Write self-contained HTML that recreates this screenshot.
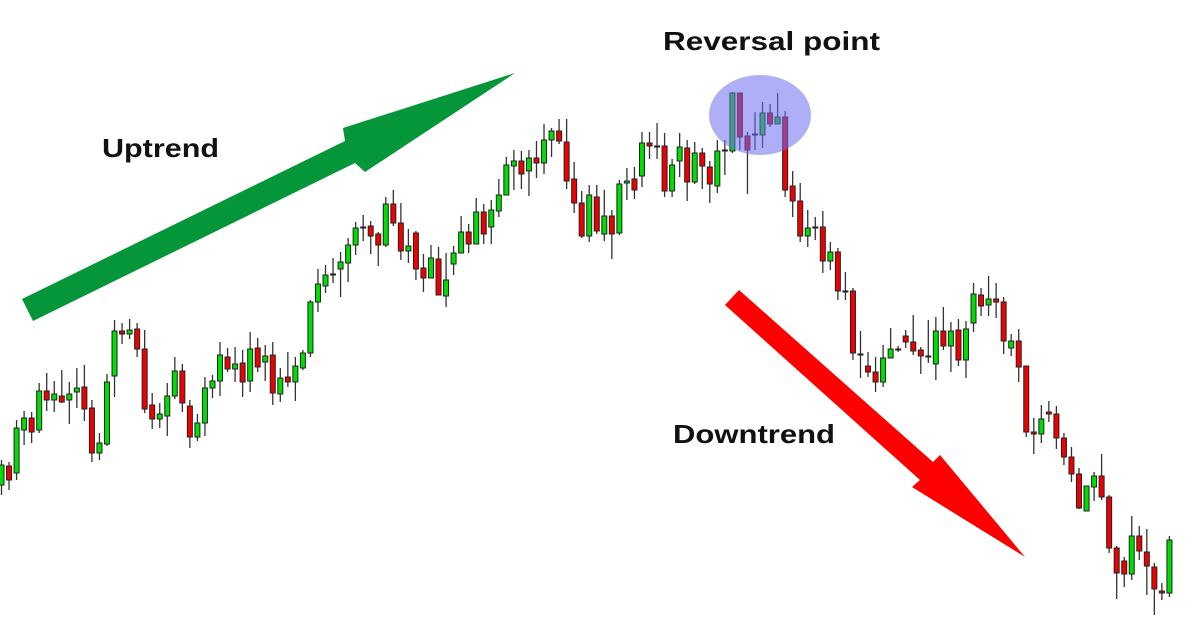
<!DOCTYPE html>
<html><head><meta charset="utf-8"><style>
html,body{margin:0;padding:0;background:#fff;}
svg{display:block;}
text{font-family:"Liberation Sans",Arial,sans-serif;font-weight:bold;fill:#111;}
</style></head><body>
<svg id="chart" width="1200" height="628" viewBox="0 0 1200 628" xmlns="http://www.w3.org/2000/svg">
<g id="candles"></g>
<polygon fill="#06963a" points="22,299 345,141 343,128 515,73 365,172 355,163 33,321"/>
<polygon fill="#ff0000" points="739,290 933,462 940,455 1025,557 912,487 920,480 725,305"/>
<ellipse cx="760" cy="115" rx="51" ry="40" fill="rgba(110,110,240,0.55)"/>
<text x="102" y="157" font-size="26" textLength="117" lengthAdjust="spacingAndGlyphs">Uptrend</text>
<text x="663" y="50" font-size="26" textLength="217" lengthAdjust="spacingAndGlyphs">Reversal point</text>
<text x="673" y="443" font-size="26" textLength="162" lengthAdjust="spacingAndGlyphs">Downtrend</text>
</svg>
<script>
const opens=[155,174,167,210,222,210,249,240,244,240,248,253,232,187,196,264,309,306,311,291,235,221,224,244,269,234,203,217,252,259,283,271,277,259,292,278,285,246,263,258,272,287,338,354,366,371,377,395,413,414,406,395,436,417,389,407,372,362,381,344,376,387,408,396,428,413,429,445,474,479,469,482,477,500,509,498,461,437,404,443,406,424,407,457,461,464,497,494,494,449,479,492,458,487,473,454,490,489,547,504,506,505,527,516,523,454,439,404,413,413,379,388,349,349,286,274,268,258,282,291,304,298,290,284,276,309,294,310,280,317,345,335,341,338,292,299,274,208,206,228,226,202,183,166,129,153,164,143,92,79,66,104,88,73,49,47];
const closes=[175,160,212,222,208,249,240,246,238,246,252,231,187,197,258,309,306,310,291,231,221,226,244,269,237,203,217,252,259,285,271,276,258,291,273,284,247,262,258,274,287,338,356,365,366,378,395,412,413,404,395,436,417,389,394,371,362,382,345,360,387,408,396,428,406,430,445,475,479,466,482,477,500,509,499,459,437,404,445,409,424,406,456,459,450,497,494,494,449,475,493,458,487,474,456,489,490,547,503,490,506,527,516,523,450,439,404,412,413,379,388,349,349,287,286,268,258,282,291,291,298,289,284,284,309,294,309,280,311,346,334,341,338,299,299,273,208,206,221,226,202,183,166,132,154,164,143,92,67,66,104,89,74,51,47,100];
const highs=[180,178,220,229,228,257,267,259,270,258,272,275,240,207,266,320,317,321,317,310,247,237,257,283,276,240,226,263,265,298,292,293,290,308,302,295,298,272,288,283,290,340,371,375,382,388,402,418,425,419,408,443,450,437,411,409,386,395,393,387,394,424,416,442,436,440,461,483,490,489,490,499,516,512,521,521,478,449,455,455,450,430,460,472,473,508,508,517,507,481,507,500,498,492,479,500,500,548,547,508,528,538,536,547,529,469,457,430,423,429,398,392,368,352,309,288,283,295,312,294,310,325,293,320,323,333,318,321,319,357,352,364,357,343,306,311,274,222,235,239,234,207,193,172,154,168,186,145,94,83,124,114,111,77,57,104];
const lows=[145,150,160,195,197,207,229,228,237,216,232,219,178,180,194,243,296,301,283,227,211,212,204,241,228,192,199,204,242,244,268,258,243,248,268,259,235,238,253,239,270,283,328,347,357,343,358,385,399,386,374,393,414,380,377,360,348,362,345,333,365,387,387,396,396,396,423,445,450,451,444,462,466,483,496,451,427,402,398,406,399,381,405,440,441,453,481,481,443,443,463,439,456,451,437,447,465,487,490,446,490,492,513,516,443,423,398,393,400,367,370,340,340,280,262,263,248,253,282,288,292,285,266,277,260,290,268,274,262,308,324,324,322,286,284,258,203,186,197,218,191,175,158,131,129,139,140,87,41,53,60,80,45,25,40,43];

function xScale(i){return 1.5+i*7.535;}
function yScale(v){return 640-v;}
const NS="http://www.w3.org/2000/svg";
const g=document.getElementById('candles');
for(let i=0;i<opens.length;i++){
  const x=xScale(i);
  const o=opens[i],c=closes[i],h=highs[i],l=lows[i];
  const wick=document.createElementNS(NS,'line');
  
  
  wick.setAttribute('x1',x);wick.setAttribute('x2',x);
  wick.setAttribute('y1',yScale(h));wick.setAttribute('y2',yScale(l));
  wick.setAttribute('stroke','#333');wick.setAttribute('stroke-width','1.3');
  g.appendChild(wick);
  const top=yScale(Math.max(o,c)),bot=yScale(Math.min(o,c));
  const body=document.createElementNS(NS,'rect');
  
  
  body.setAttribute('x',x-2.5);body.setAttribute('width',5);
  body.setAttribute('y',top);body.setAttribute('height',Math.max(bot-top,1));
  body.setAttribute('fill',c>=o?'#00dd00':'#ee0000');
  body.setAttribute('stroke','#222');body.setAttribute('stroke-width','1');
  g.appendChild(body);
}
</script>
</body></html>
